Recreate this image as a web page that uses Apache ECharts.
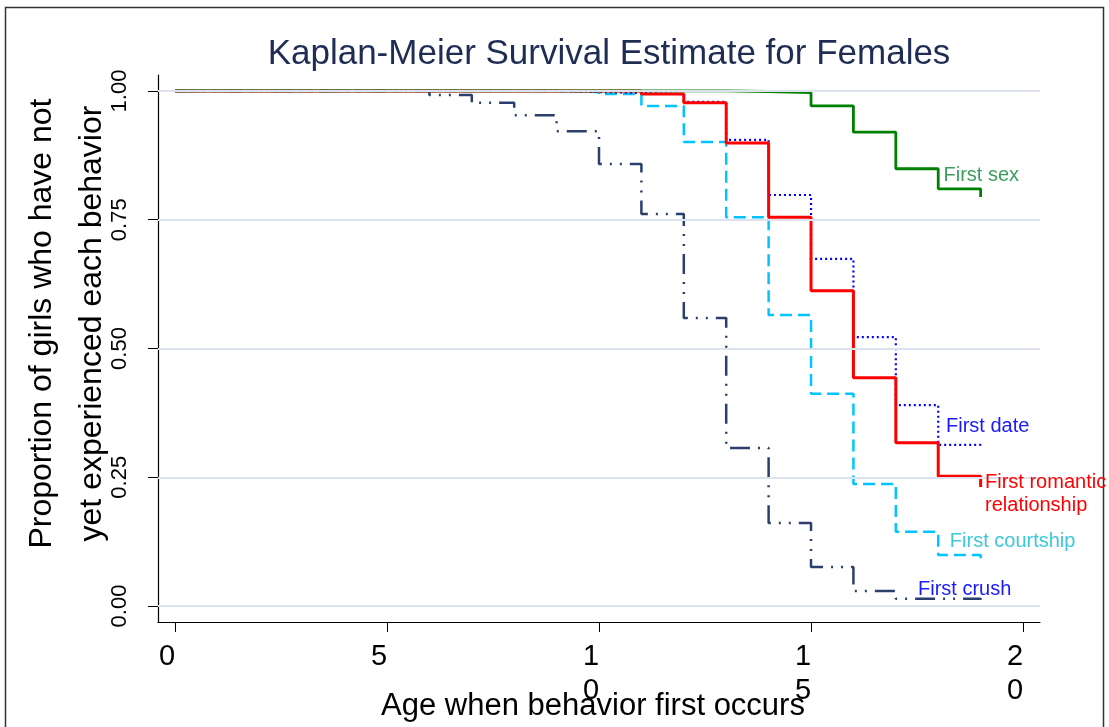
<!DOCTYPE html>
<html>
<head>
<meta charset="utf-8">
<title>Kaplan-Meier Survival Estimate for Females</title>
<script src="https://cdn.jsdelivr.net/npm/echarts@6/dist/echarts.min.js"></script>
<style>
	html,body{margin:0;padding:0;background:#fff;}
	#main{width:1109px;height:727px;}
</style>
</head>
<body>
<div id="main"></div>
<script>
// ages (years) where each curve steps, and survival proportion after the step
var crushAges = [0, 6, 7, 8, 9, 10, 11, 12, 13, 14, 15, 16, 17, 19];
var crushSurv = [1.0, 0.992, 0.977, 0.953, 0.922, 0.858, 0.761, 0.559, 0.307, 0.161, 0.076, 0.029, 0.014, 0.012];

var courtAges = [0, 9, 10, 11, 12, 13, 14, 15, 16, 17, 18, 19];
var courtSurv = [1.0, 0.998, 0.994, 0.971, 0.901, 0.755, 0.565, 0.412, 0.237, 0.144, 0.099, 0.085];

var dateAges = [0, 9, 10, 11, 12, 13, 14, 15, 16, 17, 18, 19];
var dateSurv = [1.0, 0.998, 0.996, 0.994, 0.979, 0.905, 0.798, 0.674, 0.522, 0.390, 0.313, 0.307];

var romAges = [0, 11, 12, 13, 14, 15, 16, 17, 18, 19];
var romSurv = [1.0, 0.994, 0.977, 0.899, 0.755, 0.612, 0.443, 0.317, 0.252, 0.231];

var sexAges = [0, 13, 14, 15, 16, 17, 18, 19];
var sexSurv = [1.0, 0.999, 0.997, 0.971, 0.920, 0.849, 0.810, 0.794];

var xTicks = [0, 5, 10, 15, 20];
var yTicks = [0, 0.25, 0.5, 0.75, 1];

var FONT = '"Liberation Sans", Arial, Helvetica, sans-serif';

function pairs(ages, surv){
	var out = [];
	for(var i = 0; i < ages.length; i++){
		out.push([ages[i], surv[i]]);
	}
	return out;
}

// text placed next to each curve, anchored in data coordinates
function tag(text, coord, color){
	return {
		symbol: 'circle',
		symbolSize: 2,
		silent: true,
		itemStyle: {color: 'rgba(0,0,0,0)'},
		label: {
			show: true,
			position: 'right',
			distance: 0,
			formatter: text,
			color: color,
			fontFamily: FONT,
			fontSize: 20,
			lineHeight: 23,
			align: 'left'
		},
		data: [{coord: coord, value: 0}]
	};
}

var chart = echarts.init(document.getElementById('main'), null, {renderer: 'canvas'});

var option = {
	animation: false,
	backgroundColor: '#ffffff',
	title: {
		text: 'Kaplan-Meier Survival Estimate for Females',
		left: 604,
		textAlign: 'center',
		top: 32,
		textStyle: {
			fontFamily: FONT,
			fontSize: 35,
			fontWeight: 'normal',
			color: '#1f2d55'
		}
	},
	graphic: [{
		type: 'rect',
		silent: true,
		shape: {x: 5.5, y: 7.5, width: 1098, height: 740},
		style: {fill: 'none', stroke: '#333', lineWidth: 1.5}
	}],
	grid: {
		left: 158,
		right: 69,
		top: 75,
		bottom: 105,
		containLabel: false,
		outerBoundsMode: 'none'
	},
	xAxis: {
		type: 'value',
		min: -0.4,
		max: 20.4,
		name: 'Age when behavior first occurs',
		nameLocation: 'middle',
		nameGap: 69,
		nameMoveOverlap: false,
		nameTextStyle: {fontFamily: FONT, fontSize: 31, color: '#000', padding: [0, 12, 0, 0]},
		axisLine: {show: true, onZero: false, lineStyle: {color: '#000', width: 1.2}},
		axisTick: {show: true, customValues: xTicks, length: 10, lineStyle: {color: '#000'}},
		axisLabel: {
			customValues: xTicks,
			fontFamily: FONT,
			fontSize: 29,
			lineHeight: 34,
			color: '#000',
			margin: 18,
			padding: [0, 16, 0, 0],
			formatter: function(v){
				return String(v).split('').join('\n');
			}
		},
		splitLine: {show: false}
	},
	yAxis: {
		type: 'value',
		min: -0.031,
		max: 1.031,
		name: '{t|Proportion of girls who have not}\n{t|yet experienced each behavior}',
		nameLocation: 'middle',
		nameRotate: 90,
		nameGap: 41,
		nameMoveOverlap: false,
		nameTextStyle: {
			fontFamily: FONT, fontSize: 32, color: '#000', padding: [0, 0, 0, 50],
			rich: {t: {fontFamily: FONT, fontSize: 32, lineHeight: 50, color: '#000'}}
		},
		axisLine: {show: true, onZero: false, lineStyle: {color: '#000', width: 1.2}},
		axisTick: {show: true, customValues: yTicks, length: 10, lineStyle: {color: '#000'}},
		axisLabel: {
			customValues: yTicks,
			rotate: 90,
			fontFamily: FONT,
			fontSize: 22,
			color: '#000',
			margin: 27,
			formatter: function(v){ return v.toFixed(2); }
		},
		splitLine: {show: false}
	},
	series: [
		{
			name: 'gridlines',
			type: 'line',
			data: [],
			silent: true,
			z: 1,
			markLine: {
				symbol: 'none',
				silent: true,
				label: {show: false},
				lineStyle: {color: '#dde3ee', width: 2, type: 'solid'},
				data: yTicks.map(function(v){ return {yAxis: v}; })
			}
		},
		{
			name: 'First crush',
			type: 'line',
			step: 'end',
			showSymbol: false,
			z: 3,
			data: pairs(crushAges, crushSurv),
			lineStyle: {color: '#2a3f6e', width: 2.5, type: [20, 8, 2, 8, 2, 8]},
			markPoint: tag('First crush', [17.5, 0.033], '#1a1aff')
		},
		{
			name: 'First courtship',
			type: 'line',
			step: 'end',
			showSymbol: false,
			z: 3,
			data: pairs(courtAges, courtSurv),
			lineStyle: {color: '#00c4ff', width: 2.5, type: [12, 6]},
			markPoint: tag('First courtship', [18.25, 0.126], '#3cc8d8')
		},
		{
			name: 'First date',
			type: 'line',
			step: 'end',
			showSymbol: false,
			z: 3,
			data: pairs(dateAges, dateSurv),
			lineStyle: {color: '#0000ff', width: 2.2, type: [2, 3]},
			markPoint: tag('First date', [18.16, 0.348], '#1a1aff')
		},
		{
			name: 'First romantic relationship',
			type: 'line',
			step: 'end',
			showSymbol: false,
			z: 3,
			data: pairs(romAges, romSurv),
			lineStyle: {color: '#ff0000', width: 3},
			markPoint: tag('First romantic\nrelationship', [19.08, 0.217], '#ff0000')
		},
		{
			name: 'First sex',
			type: 'line',
			step: 'end',
			showSymbol: false,
			z: 4,
			data: pairs(sexAges, sexSurv),
			lineStyle: {color: '#008000', width: 2.8},
			markPoint: tag('First sex', [18.1, 0.835], '#3a9e5e')
		}
	]
};

chart.setOption(option);
</script>
</body>
</html>
